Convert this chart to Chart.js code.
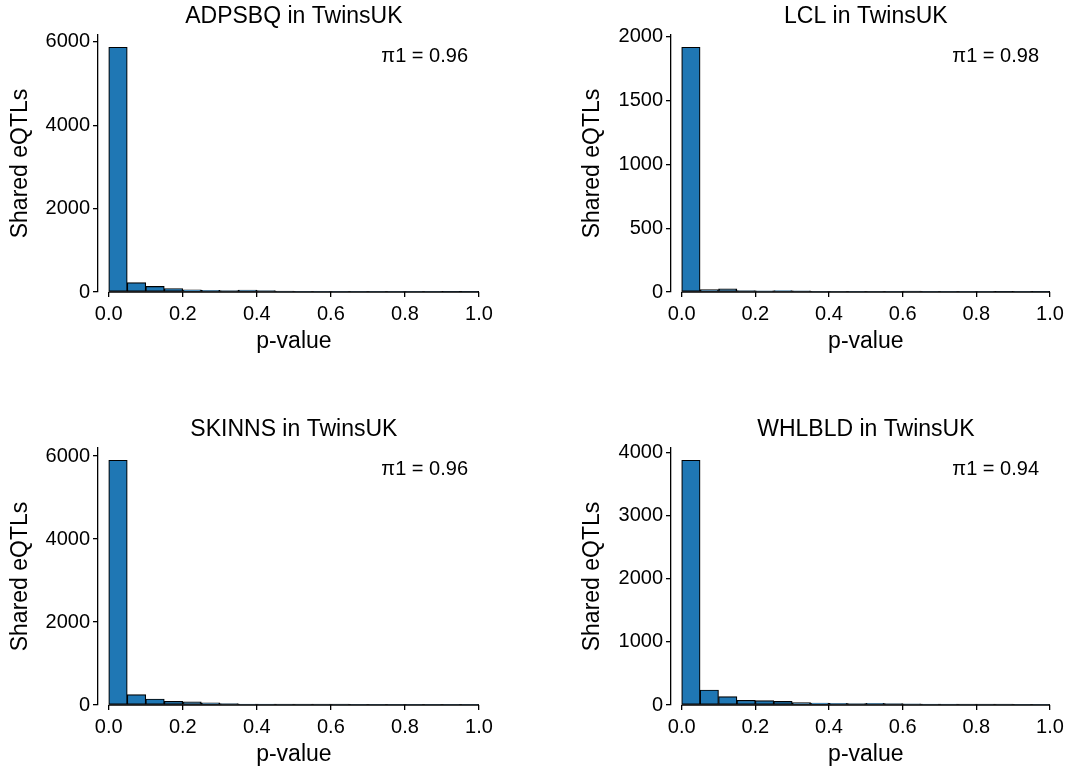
<!DOCTYPE html>
<html>
<head>
<meta charset="utf-8">
<script src="https://cdn.jsdelivr.net/npm/chart.js@4.4.0/dist/chart.umd.min.js"></script>
<style>
  body { margin: 0; background: #fff; }
  #wrap { position: relative; width: 1091px; height: 771px; }
  canvas { position: absolute; }
</style>
</head>
<body>
<div id="wrap">
  <canvas id="c1" width="545" height="358" style="left:0px;top:0px"></canvas>
  <canvas id="c2" width="546" height="358" style="left:545px;top:0px"></canvas>
  <canvas id="c3" width="545" height="358" style="left:0px;top:413px"></canvas>
  <canvas id="c4" width="546" height="358" style="left:545px;top:413px"></canvas>
</div>
<script>
// histogram bins: 20 bins of width 0.05 over p-value 0..1
const binCenters = [0.025, 0.075, 0.125, 0.175, 0.225, 0.275, 0.325, 0.375, 0.425, 0.475,
                    0.525, 0.575, 0.625, 0.675, 0.725, 0.775, 0.825, 0.875, 0.925, 0.975];
const xTicks = [0, 0.2, 0.4, 0.6, 0.8, 1.0];

const adpsbq = [5870, 225, 135, 85, 50, 38, 32, 45, 32, 20, 18, 16, 15, 14, 13, 12, 12, 11, 10, 10];
const lcl    = [1918, 18, 25, 11, 9, 12, 10, 6, 6, 5, 6, 5, 7, 5, 4, 4, 4, 3, 4, 3];
const skinns = [5900, 250, 145, 88, 78, 55, 32, 25, 24, 22, 22, 20, 20, 18, 16, 15, 14, 13, 12, 12];
const whlbld = [3880, 238, 132, 74, 69, 58, 37, 32, 26, 21, 25, 21, 17, 16, 15, 14, 13, 13, 12, 12];

const yTicksAdpsbq = [0, 2000, 4000, 6000];
const yTicksLcl    = [0, 500, 1000, 1500, 2000];
const yTicksSkinns = [0, 2000, 4000, 6000];
const yTicksWhlbld = [0, 1000, 2000, 3000, 4000];

const font = "'Liberation Sans', Arial, Helvetica, sans-serif";

// bottom spine only from 0 to 1 (left spine is offset), plus titles and pi1 note
const extras = {
  id: 'extras',
  afterDatasetsDraw(chart) {
    const xs = chart.scales.x, ys = chart.scales.y, ctx = chart.ctx;
    const yy = ys.getPixelForValue(0);
    ctx.save();
    ctx.strokeStyle = '#000';
    ctx.lineWidth = 1.3;
    ctx.beginPath();
    ctx.moveTo(xs.getPixelForValue(0), yy);
    ctx.lineTo(xs.getPixelForValue(1), yy);
    ctx.stroke();
    ctx.restore();
  },
  afterDraw(chart, args, opts) {
    const ctx = chart.ctx, area = chart.chartArea, xs = chart.scales.x;
    const mid = (xs.getPixelForValue(0) + xs.getPixelForValue(1)) / 2;
    ctx.save();
    ctx.fillStyle = '#000';
    ctx.textBaseline = 'middle';
    ctx.font = '23px ' + font;
    ctx.textAlign = 'center';
    ctx.fillText(opts.title, mid, 17);
    ctx.fillText('p-value', mid, area.bottom + 50);
    ctx.font = '20px ' + font;
    ctx.textAlign = 'right';
    ctx.fillText(opts.pi1, area.right - 11, area.top + 21);
    ctx.restore();
  }
};

function makeChart(id, title, counts, yTicks, pi1, yWidth, yTitlePad, padRight) {
  const yMax = Math.max(...counts) * 1.05;
  new Chart(document.getElementById(id), {
    type: 'bar',
    data: {
      datasets: [{
        data: binCenters.map((x, i) => ({ x: x, y: counts[i] })),
        backgroundColor: '#1f77b4',
        borderColor: '#000',
        borderWidth: 1.2,
        borderSkipped: false,
        barPercentage: 1,
        categoryPercentage: 1
      }]
    },
    options: {
      responsive: false,
      animation: false,
      devicePixelRatio: 1,
      layout: { padding: { left: 0, right: padRight, top: 35, bottom: 0 } },
      plugins: {
        legend: { display: false },
        tooltip: { enabled: false },
        title: { display: false },
        extras: { title: title, pi1: pi1 }
      },
      scales: {
        x: {
          type: 'linear', min: -0.029, max: 1, offset: false,
          afterBuildTicks: s => { s.ticks = xTicks.map(v => ({ value: v })); },
          afterFit: s => { s.height = 66; },
          grid: { display: true, drawOnChartArea: false, drawTicks: true, tickLength: 5,
                  color: '#000', lineWidth: 1.3, offset: false },
          border: { display: false },
          ticks: { color: '#000', font: { size: 20, family: font }, padding: 5,
                   maxRotation: 0, autoSkip: false, callback: v => v.toFixed(1) },
          title: { display: false }
        },
        y: {
          min: 0, max: yMax,
          afterBuildTicks: s => { s.ticks = yTicks.map(v => ({ value: v })); },
          afterFit: s => { s.width = yWidth; },
          grid: { display: true, drawOnChartArea: false, drawTicks: true, tickLength: 5,
                  color: '#000', lineWidth: 1.3 },
          border: { display: true, color: '#000', width: 1.3 },
          ticks: { color: '#000', font: { size: 20, family: font }, padding: 3,
                   callback: v => String(v) },
          title: { display: true, text: 'Shared eQTLs', color: '#000',
                   font: { size: 23, family: font }, padding: { top: yTitlePad, bottom: 0 } }
        }
      }
    },
    plugins: [extras]
  });
}

makeChart('c1', 'ADPSBQ in TwinsUK', adpsbq, yTicksAdpsbq, 'π1 = 0.96', 98, 7, 66);
makeChart('c2', 'LCL in TwinsUK', lcl, yTicksLcl, 'π1 = 0.98', 126, 33.7, 41);
makeChart('c3', 'SKINNS in TwinsUK', skinns, yTicksSkinns, 'π1 = 0.96', 98, 7, 66);
makeChart('c4', 'WHLBLD in TwinsUK', whlbld, yTicksWhlbld, 'π1 = 0.94', 126, 33.7, 41);
</script>
</body>
</html>
